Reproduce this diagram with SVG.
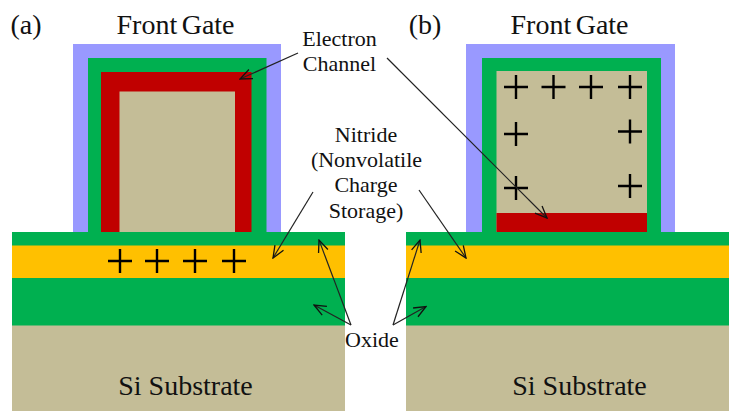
<svg xmlns="http://www.w3.org/2000/svg" width="729" height="411" viewBox="0 0 729 411">
<style>
.blue{fill:#9999ff}.green{fill:#00b050}.red{fill:#c00000}.tan{fill:#c4bd97}.orange{fill:#ffc000}
text{font-family:"Liberation Serif","Times New Roman",serif;fill:#111;text-anchor:middle}
.t{font-size:28px}.g{word-spacing:-2.500px}.l{font-size:22px}
.plus{stroke:#000;stroke-width:2.400;fill:none}
.arrow{stroke:#222;stroke-width:1.200;fill:none;marker-end:url(#a)}
</style>
<defs>
<marker id="a" viewBox="0 0 14 14" refX="13" refY="7" markerWidth="14" markerHeight="14" markerUnits="userSpaceOnUse" orient="auto"><path d="M1 2L13 7L1 12" fill="none" stroke="#111" stroke-width="1.300"/></marker>
<path id="p" d="M-12 0H12M0 -12V12"/>
</defs>
<rect width="729" height="411" fill="#fff"/>
<g id="device-a">
<rect class="blue" x="73" y="44" width="208" height="189"/>
<rect class="green" x="88" y="58" width="178.500" height="175"/>
<rect class="red" x="101" y="72" width="150.500" height="161"/>
<rect class="tan" x="119.500" y="91.500" width="115.500" height="141"/>
<rect class="green" x="12" y="232" width="333" height="14"/>
<rect class="orange" x="12" y="245.500" width="333" height="33"/>
<rect class="green" x="12" y="278" width="333" height="48"/>
<rect class="tan" x="12" y="325.500" width="333" height="85.500"/>
<g class="plus"><use href="#p" x="120" y="261"/><use href="#p" x="157" y="261"/><use href="#p" x="195" y="261"/><use href="#p" x="234" y="261"/></g>
</g>
<g id="device-b">
<rect class="blue" x="466" y="44" width="209" height="189"/>
<rect class="green" x="482" y="58" width="179" height="175"/>
<rect class="tan" x="496.500" y="71" width="150.500" height="162"/>
<rect class="red" x="496.500" y="213" width="150.500" height="19.500"/>
<rect class="green" x="406" y="232" width="323" height="14"/>
<rect class="orange" x="406" y="245.500" width="323" height="33"/>
<rect class="green" x="406" y="278" width="323" height="48"/>
<rect class="tan" x="406" y="325.500" width="323" height="85.500"/>
<g class="plus"><use href="#p" x="516" y="87"/><use href="#p" x="553.500" y="87"/><use href="#p" x="591" y="87"/><use href="#p" x="630" y="87"/><use href="#p" x="516" y="134"/><use href="#p" x="630" y="131.500"/><use href="#p" x="516" y="188"/><use href="#p" x="630" y="186"/></g>
</g>
<g id="connectors">
<path class="arrow" d="M298 53L240 79"/>
<path class="arrow" d="M387 58L547 218"/>
<path class="arrow" d="M313 192L273 258"/>
<path class="arrow" d="M419 190L466 258"/>
<path class="arrow" d="M351 325L319 240"/>
<path class="arrow" d="M351 325L314 305"/>
<path class="arrow" d="M393 325L420 240"/>
<path class="arrow" d="M393 325L426 306.500"/>
</g>
<g id="labels">
<text class="t" x="26" y="34">(a)</text>
<text class="t g" x="175.500" y="34">Front Gate</text>
<text class="t" x="425" y="34">(b)</text>
<text class="t g" x="569.500" y="34">Front Gate</text>
<text class="l" x="339.500" y="46">Electron</text>
<text class="l" x="339.500" y="71">Channel</text>
<text class="l" x="366" y="142">Nitride</text>
<text class="l" x="366.500" y="167">(Nonvolatile</text>
<text class="l" x="366" y="192">Charge</text>
<text class="l" x="366" y="218">Storage)</text>
<text class="l" x="372" y="347">Oxide</text>
<text class="t" x="185.500" y="395">Si Substrate</text>
<text class="t" x="579.500" y="395">Si Substrate</text>
</g>
</svg>
